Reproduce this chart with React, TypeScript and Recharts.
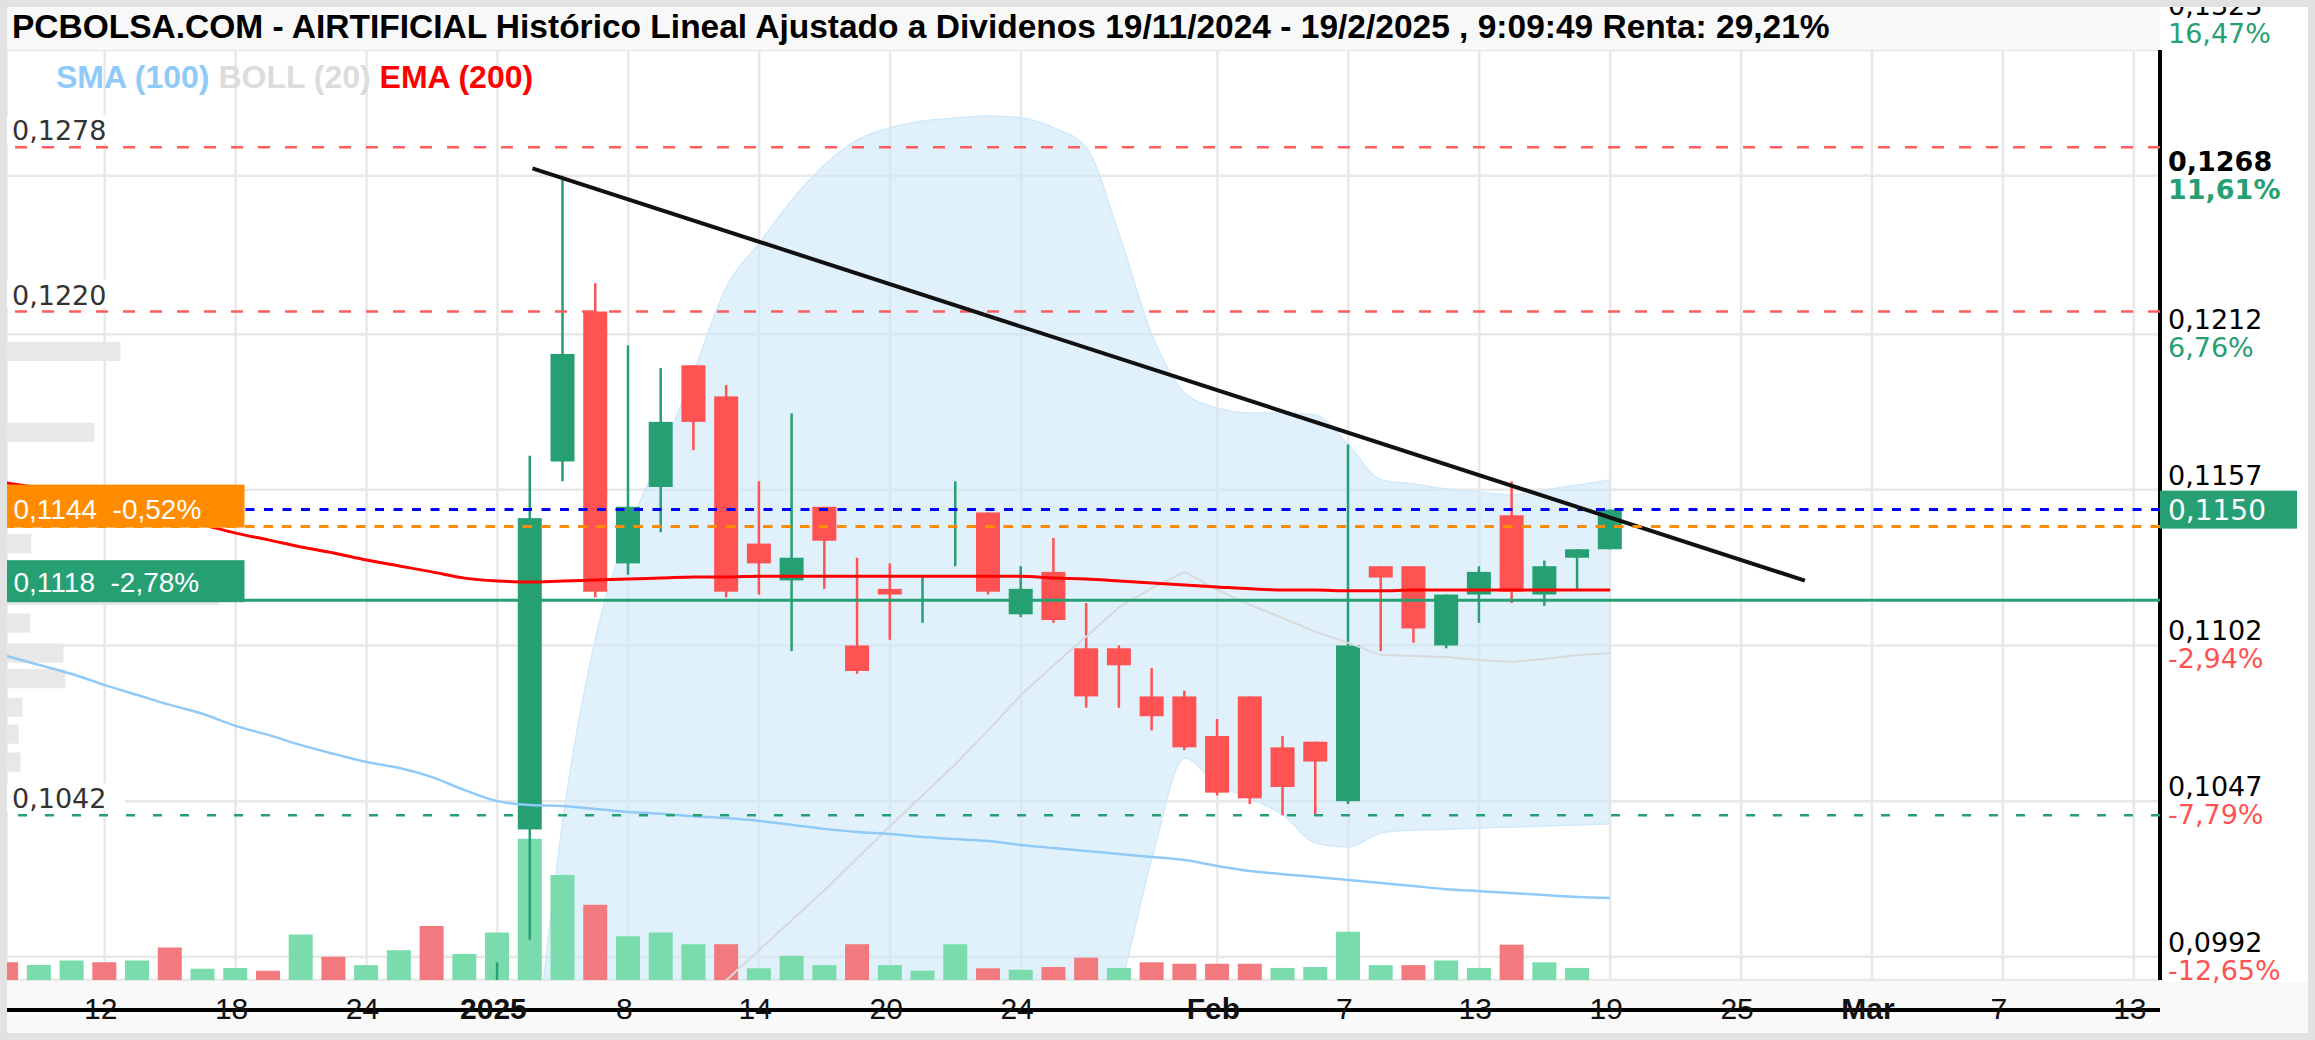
import React from "react";
import {
  ComposedChart,
  Bar,
  Line,
  Area,
  XAxis,
  YAxis,
  CartesianGrid,
  ReferenceLine,
  ReferenceArea,
  Cell,
} from "recharts";

// trading days on screen: 9 Dec 2024 .. 19 Feb 2025 (index = position on the time axis)
const tradingDays = [
  "9/12", "10/12", "11/12", "12/12", "13/12", "16/12", "17/12", "18/12", "19/12", "20/12",
  "23/12", "24/12", "27/12", "30/12", "31/12", "2/1", "3/1", "6/1", "7/1", "8/1",
  "9/1", "10/1", "13/1", "14/1", "15/1", "16/1", "17/1", "20/1", "21/1", "22/1",
  "23/1", "24/1", "27/1", "28/1", "29/1", "30/1", "31/1", "3/2", "4/2", "5/2",
  "6/2", "7/2", "10/2", "11/2", "12/2", "13/2", "14/2", "17/2", "18/2", "19/2",
];

// volume (millions), 1 = up day, 0 = down day
const volume = [
  1.9, 1.6, 2.1, 1.9, 2.1, 3.5, 1.2, 1.3, 1.0, 4.9,
  2.5, 1.6, 3.2, 5.8, 2.8, 5.1, 15.2, 11.3, 8.1, 4.7,
  5.1, 3.85, 3.85, 1.26, 2.6, 1.6, 3.85, 1.6, 1.0, 3.85,
  1.26, 1.1, 1.4, 2.4, 1.3, 1.9, 1.75, 1.75, 1.75, 1.3,
  1.4, 5.2, 1.6, 1.6, 2.1, 1.3, 3.8, 1.9, 1.3,
];
const volumeUp = [
  0, 1, 1, 0, 1, 0, 1, 1, 0, 1,
  0, 1, 1, 0, 1, 1, 1, 1, 0, 1,
  1, 1, 0, 1, 1, 1, 0, 1, 1, 1,
  0, 1, 0, 0, 1, 0, 0, 0, 0, 1,
  1, 1, 1, 0, 1, 1, 0, 1, 1,
];

// OHLC from 2 Jan 2025 (index 15) to 19 Feb 2025
const CANDLE_START = 15;
const open = [
  0.0975, 0.1037, 0.1167, 0.122, 0.1131, 0.1158, 0.1201, 0.119, 0.1138, 0.1125,
  0.1151, 0.1102, 0.1122, 0.112, 0.1131, 0.1149, 0.1113, 0.1128, 0.1101, 0.1101,
  0.1084, 0.1084, 0.107, 0.1084, 0.1066, 0.1068, 0.1047, 0.113, 0.113, 0.1102,
  0.112, 0.1148, 0.112, 0.1133, 0.1136,
];
const high = [
  0.099, 0.1169, 0.1268, 0.123, 0.1208, 0.12, 0.1201, 0.1194, 0.116, 0.1184,
  0.1151, 0.1133, 0.1131, 0.1126, 0.116, 0.1149, 0.113, 0.114, 0.1117, 0.1102,
  0.1094, 0.1086, 0.1076, 0.1084, 0.107, 0.1068, 0.1173, 0.113, 0.113, 0.112,
  0.113, 0.116, 0.1132, 0.1136, 0.115,
];
const low = [
  0.097, 0.0998, 0.116, 0.1119, 0.1127, 0.1142, 0.1171, 0.1119, 0.112, 0.11,
  0.1122, 0.1092, 0.1104, 0.111, 0.113, 0.112, 0.1112, 0.111, 0.108, 0.108,
  0.1072, 0.1065, 0.1049, 0.1046, 0.1042, 0.1042, 0.1046, 0.11, 0.1103, 0.1101,
  0.111, 0.1117, 0.1116, 0.1122, 0.1136,
];
const close = [
  0.098, 0.1147, 0.1205, 0.1121, 0.1151, 0.1181, 0.1181, 0.1121, 0.1131, 0.1133,
  0.1139, 0.1093, 0.112, 0.112, 0.1131, 0.1121, 0.1122, 0.1111, 0.1084, 0.1095,
  0.1077, 0.1066, 0.105, 0.1048, 0.1052, 0.1061, 0.1102, 0.1126, 0.1108, 0.112,
  0.1128, 0.1121, 0.113, 0.1136, 0.115,
];

const sma100 = [
  0.10983, 0.10951, 0.10919, 0.1088, 0.10845, 0.1081, 0.10778, 0.10736, 0.10704, 0.10668,
  0.10637, 0.10608, 0.10587, 0.10555, 0.10509, 0.1047, 0.10456, 0.10453, 0.10442, 0.10432,
  0.10425, 0.10417, 0.1041, 0.104, 0.10386, 0.10372, 0.10361, 0.10354, 0.10343, 0.10336,
  0.10329, 0.10315, 0.10304, 0.10294, 0.10283, 0.10273, 0.10262, 0.10241, 0.10223, 0.10212,
  0.10202, 0.10191, 0.10181, 0.1017, 0.10159, 0.10152, 0.10145, 0.10138, 0.10131, 0.10128,
];
const ema200 = [
  0.11594, 0.11576, 0.11552, 0.11523, 0.11499, 0.11474, 0.11446, 0.11417, 0.11393, 0.11368,
  0.11347, 0.11322, 0.11301, 0.1128, 0.11258, 0.11248, 0.11244, 0.11248, 0.11251, 0.11255,
  0.11258, 0.11262, 0.11262, 0.11265, 0.11265, 0.11265, 0.11265, 0.11265, 0.11265, 0.11265,
  0.11265, 0.11265, 0.11258, 0.11255, 0.11248, 0.11241, 0.11234, 0.11227, 0.1122, 0.11216,
  0.11216, 0.11213, 0.11213, 0.11216, 0.11216, 0.11216, 0.11216, 0.11216, 0.11216, 0.11216,
];

// bollinger (20) band from index 16, middle from index 21
const BAND_START = 16;
const bollUpper = [
  0.09393, 0.10403, 0.11046, 0.11428, 0.11693, 0.11986, 0.12287, 0.12442, 0.12594, 0.12718,
  0.12806, 0.12849, 0.12873, 0.12884, 0.12891, 0.12884, 0.12849, 0.12778, 0.1247, 0.12117,
  0.11912, 0.11859, 0.11841, 0.11841, 0.11834, 0.11728, 0.11605, 0.11591, 0.11573, 0.11562,
  0.11552, 0.11569, 0.11587, 0.11605,
];
const bollLower = [
  0.093, 0.09, 0.088, 0.086, 0.084, 0.082, 0.08, 0.08, 0.081, 0.082,
  0.083, 0.084, 0.085, 0.087, 0.089, 0.091, 0.093, 0.095, 0.09803, 0.10269,
  0.10622, 0.10527, 0.10481, 0.10421, 0.10322, 0.10308, 0.10357, 0.10368, 0.10371, 0.10375,
  0.10379, 0.10382, 0.10386, 0.10389,
];
const MID_START = 21;
const bollMid = [
  0.09732, 0.09838, 0.09944, 0.1005, 0.10156, 0.10269, 0.10382, 0.10492, 0.10601, 0.10721,
  0.10845, 0.10951, 0.11053, 0.11156, 0.11223, 0.1128, 0.11216, 0.11163, 0.11117, 0.11068,
  0.11029, 0.10986, 0.10983, 0.10979, 0.10969, 0.10962, 0.10972, 0.10986, 0.10993,
];

// volume by price (left side), in days of axis width
const profilePrice = [0.12059, 0.11773, 0.1138, 0.11197, 0.11099, 0.10993, 0.10903, 0.10801, 0.10707, 0.10608];
const profileVol = [3.48, 2.69, 0.76, 6.5, 0.73, 1.74, 1.8, 0.49, 0.37, 0.43];

const xTicks = [3, 7, 11, 15, 19, 23, 27, 31, 37, 41, 45, 49, 53, 57, 61, 65];
const xTickLabels = ["12", "18", "24", "2025", "8", "14", "20", "24", "Feb", "7", "13", "19", "25", "Mar", "7", "13"];
const majorLabels = ["2025", "Feb", "Mar"];

const yTicks = [0.1323, 0.1268, 0.1212, 0.1157, 0.1102, 0.1047, 0.0992];
const yTickLabels = ["0,1323", "0,1268", "0,1212", "0,1157", "0,1102", "0,1047", "0,0992"];
const yTickPct = ["16,47%", "11,61%", "6,76%", "", "-2,94%", "-7,79%", "-12,65%"];
const PERIOD_HIGH = 0.1268;

const LAST = 0.115;
const AVG_COST = 0.1144;
const SUPPORT = 0.1118;
const RES_1 = 0.1278;
const RES_2 = 0.122;
const SUP_2 = 0.1042;
const trendStart = { x: 16.07, y: 0.12706 };
const trendEnd = { x: 54.95, y: 0.11249 };

const Y_MIN = 0.09838;
const Y_MAX = 0.13124;
const X_MAX = 65.8;
const BIN = 0.00034;

const GREEN = "#26a072";
const RED = "#ff5252";
const VOL_GREEN = "#7adcac";
const VOL_RED = "#f27a7e";
const ARIAL = "Liberation Sans, Arial, sans-serif";
const VERDANA = "DejaVu Sans, Verdana, sans-serif";

const W = 2315;
const H = 1040;
const MARGIN = { top: 50, right: 0, bottom: 0, left: 6.5 };

const rows = tradingDays.map((date, i) => {
  const k = i - CANDLE_START;
  const b = i - BAND_START;
  const m = i - MID_START;
  return {
    i,
    date,
    vol: volume[i] ?? null,
    volUp: volumeUp[i] === 1,
    sma: sma100[i],
    ema: ema200[i],
    band: b >= 0 ? [bollLower[b], bollUpper[b]] : null,
    mid: m >= 0 ? bollMid[m] : null,
    o: k >= 0 ? open[k] : null,
    h: k >= 0 ? high[k] : null,
    l: k >= 0 ? low[k] : null,
    c: k >= 0 ? close[k] : null,
  };
});

const Candle = (props: any) => {
  const { x, y, width, height, payload } = props;
  if (payload.h == null || !isFinite(y)) return null;
  const top = Math.min(y, y + height);
  const h = Math.abs(height);
  const py = (v: number) => top + ((payload.h - v) / (payload.h - payload.l)) * h;
  const color = payload.c >= payload.o ? GREEN : RED;
  const cx = x + width / 2;
  const bt = py(Math.max(payload.o, payload.c));
  const bb = py(Math.min(payload.o, payload.c));
  return (
    <g>
      <line x1={cx} x2={cx} y1={top} y2={top + h} stroke={color} strokeWidth={2.5} />
      {bb - bt > 0.5 && <rect x={x} y={bt} width={width} height={bb - bt} fill={color} />}
    </g>
  );
};

const PriceTick = (props: any) => {
  const { x, y, payload } = props;
  const k = yTicks.indexOf(payload.value);
  if (k < 0) return null;
  const bold = payload.value === PERIOD_HIGH;
  const pct = yTickPct[k];
  return (
    <g fontFamily={VERDANA} fontSize={27} fontWeight={bold ? 700 : 400}>
      <text x={x} y={y - 5} fill="#000" textAnchor="start">
        {yTickLabels[k]}
      </text>
      {pct && (
        <text x={x} y={y + 23} fill={pct.startsWith("-") ? RED : GREEN} textAnchor="start">
          {pct}
        </text>
      )}
    </g>
  );
};

const DateTick = (props: any) => {
  const { x, y, payload } = props;
  const k = xTicks.indexOf(payload.value);
  const label = xTickLabels[k];
  return (
    <text
      x={x - 4}
      y={y + 1}
      textAnchor="middle"
      fill="#111"
      fontFamily={ARIAL}
      fontSize={30}
      fontWeight={majorLabels.includes(label) ? 700 : 400}
    >
      {label}
    </text>
  );
};

const priceLabel = (text: string) => (props: any) => {
  const { x, y } = props.viewBox;
  return (
    <g>
      <rect x={x + 0.5} y={y - 32} width={118} height={28} fill="#fff" />
      <text x={x + 5.5} y={y - 7} fill="#333" fontFamily={VERDANA} fontSize={27}>
        {text}
      </text>
    </g>
  );
};

const boxLabel = (text: string, fill: string, above: number, below: number) => (props: any) => {
  const { x, y } = props.viewBox;
  return (
    <g>
      <rect x={x} y={y - above} width={238} height={above + below} fill={fill} />
      <text
        x={x + 7}
        y={y - 8}
        fill="#fff"
        fontFamily={ARIAL}
        fontSize={28}
        style={{ whiteSpace: "pre" }}
      >
        {text}
      </text>
    </g>
  );
};

const lastLabel = (props: any) => {
  const { x, y, width } = props.viewBox;
  const left = x + width;
  return (
    <g>
      <rect x={left} y={y - 19} width={137} height={38} fill={GREEN} />
      <text x={left + 8} y={y + 10} fill="#fff" fontFamily={VERDANA} fontSize={28}>
        0,1150
      </text>
    </g>
  );
};

// the price chart itself
function PriceChart() {
  return (
    <ComposedChart width={W} height={H} data={rows} margin={MARGIN}>
      <XAxis
        xAxisId="x"
        dataKey="i"
        type="number"
        domain={[0, X_MAX]}
        allowDataOverflow
        ticks={xTicks}
        interval={0}
        tick={(p: any) => <DateTick {...p} />}
        tickLine={false}
        axisLine={{ stroke: "#000", strokeWidth: 4 }}
        height={60}
      />
      <XAxis xAxisId="v" dataKey="i" type="number" domain={[0, X_MAX]} allowDataOverflow hide />
      <YAxis
        yAxisId="p"
        orientation="right"
        type="number"
        domain={[Y_MIN, Y_MAX]}
        allowDataOverflow
        ticks={yTicks}
        interval={0}
        tick={(p: any) => <PriceTick {...p} />}
        tickLine={false}
        tickSize={6}
        tickMargin={2}
        axisLine={{ stroke: "#000", strokeWidth: 4 }}
        width={155}
      />
      <YAxis yAxisId="vol" hide domain={[0, 100]} />
      <CartesianGrid xAxisId="x" yAxisId="p" stroke="#e8e8e8" strokeWidth={2.5} />

      <Area
        xAxisId="x"
        yAxisId="p"
        type="monotone"
        dataKey="band"
        stroke="#d2e9fb"
        strokeWidth={1.5}
        fill="#cde8fa"
        fillOpacity={0.6}
        isAnimationActive={false}
      />
      <Bar xAxisId="v" yAxisId="vol" dataKey="vol" barSize={24} isAnimationActive={false}>
        {rows.map((r) => (
          <Cell key={r.i} fill={r.volUp ? VOL_GREEN : VOL_RED} />
        ))}
      </Bar>

      {profilePrice.map((p, k) => (
        <ReferenceArea
          key={k}
          xAxisId="x"
          yAxisId="p"
          x1={0}
          x2={profileVol[k]}
          y1={p - BIN}
          y2={p + BIN}
          fill="#e8e8e8"
          fillOpacity={1}
          stroke="none"
          ifOverflow="hidden"
        />
      ))}

      <Bar
        xAxisId="x"
        yAxisId="p"
        dataKey={(d: any) => (d.h == null ? null : [d.l, d.h])}
        barSize={24}
        shape={(p: any) => <Candle {...p} />}
        isAnimationActive={false}
      />

      <Line xAxisId="x" yAxisId="p" type="linear" dataKey="mid" stroke="#d9d9d9" strokeWidth={2} dot={false} isAnimationActive={false} />
      <Line xAxisId="x" yAxisId="p" type="monotone" dataKey="sma" stroke="#90caf9" strokeWidth={2.5} dot={false} isAnimationActive={false} />
      <Line xAxisId="x" yAxisId="p" type="monotone" dataKey="ema" stroke="#ff0000" strokeWidth={3} dot={false} isAnimationActive={false} />
    </ComposedChart>
  );
}

// level lines and their tags, on the same axes, drawn above the series
function LevelsLayer() {
  return (
    <ComposedChart width={W} height={H} data={rows} margin={MARGIN}>
      <XAxis xAxisId="x" dataKey="i" type="number" domain={[0, X_MAX]} allowDataOverflow tick={false} tickLine={false} axisLine={false} height={60} />
      <YAxis
        yAxisId="p"
        orientation="right"
        type="number"
        domain={[Y_MIN, Y_MAX]}
        allowDataOverflow
        tick={false}
        tickLine={false}
        axisLine={false}
        width={155}
      />
      <ReferenceLine xAxisId="x" yAxisId="p" y={RES_1} stroke="#ff5c5c" strokeWidth={2.5} strokeDasharray="12 15" label={priceLabel("0,1278")} />
      <ReferenceLine xAxisId="x" yAxisId="p" y={RES_2} stroke="#ff5c5c" strokeWidth={2.5} strokeDasharray="12 15" label={priceLabel("0,1220")} />
      <ReferenceLine xAxisId="x" yAxisId="p" y={SUP_2} stroke={GREEN} strokeWidth={2.5} strokeDasharray="9 18" label={priceLabel("0,1042")} />
      <ReferenceLine xAxisId="x" yAxisId="p" y={LAST} stroke="#0000ff" strokeWidth={3} strokeDasharray="9 9.5" label={lastLabel} />
      <ReferenceLine xAxisId="x" yAxisId="p" segment={[trendStart, trendEnd]} stroke="#111" strokeWidth={4} />
      <ReferenceLine xAxisId="x" yAxisId="p" y={SUPPORT} stroke={GREEN} strokeWidth={3} label={boxLabel("0,1118  -2,78%", GREEN, 40, 2)} />
      <ReferenceLine xAxisId="x" yAxisId="p" y={AVG_COST} stroke="#ff8c00" strokeWidth={3} strokeDasharray="9.5 9" label={boxLabel("0,1144  -0,52%", "#ff8c00", 42, 1)} />
    </ComposedChart>
  );
}

export default function App() {
  return (
    <div
      style={{
        position: "absolute",
        left: 0,
        top: 0,
        width: W,
        height: H,
        background: "#fff",
        overflow: "hidden",
      }}
    >
      <div style={{ position: "absolute", left: 7, top: 982, width: 2301, height: 51, background: "#f9f9f9" }} />
      <div style={{ position: "absolute", left: 0, top: 0 }}>
        <PriceChart />
      </div>
      <div style={{ position: "absolute", left: 0, top: 0 }}>
        <LevelsLayer />
      </div>

      <div
        style={{
          position: "absolute",
          left: 7,
          top: 7,
          width: 2153,
          height: 43,
          background: "#f8f8f8",
        }}
      />
      <div
        style={{
          position: "absolute",
          left: 12,
          top: 10,
          fontFamily: ARIAL,
          fontWeight: 700,
          fontSize: 33.5,
          lineHeight: "33.5px",
          color: "#000",
          whiteSpace: "nowrap",
        }}
      >
        PCBOLSA.COM - AIRTIFICIAL Histórico Lineal Ajustado a Dividenos 19/11/2024 - 19/2/2025 , 9:09:49 Renta: 29,21%
      </div>
      <div
        style={{
          position: "absolute",
          left: 56,
          top: 61,
          fontFamily: ARIAL,
          fontWeight: 700,
          fontSize: 32,
          lineHeight: "32px",
          whiteSpace: "pre",
        }}
      >
        <span style={{ color: "#90caf9" }}>SMA (100)</span> <span style={{ color: "#dcdcdc" }}>BOLL (20)</span>{" "}
        <span style={{ color: "#ff0000" }}>EMA (200)</span>
      </div>
      <div
        style={{
          position: "absolute",
          left: 0,
          top: 0,
          width: W,
          height: H,
          boxSizing: "border-box",
          border: "7px solid #e2e2e2",
          pointerEvents: "none",
        }}
      />
    </div>
  );
}
